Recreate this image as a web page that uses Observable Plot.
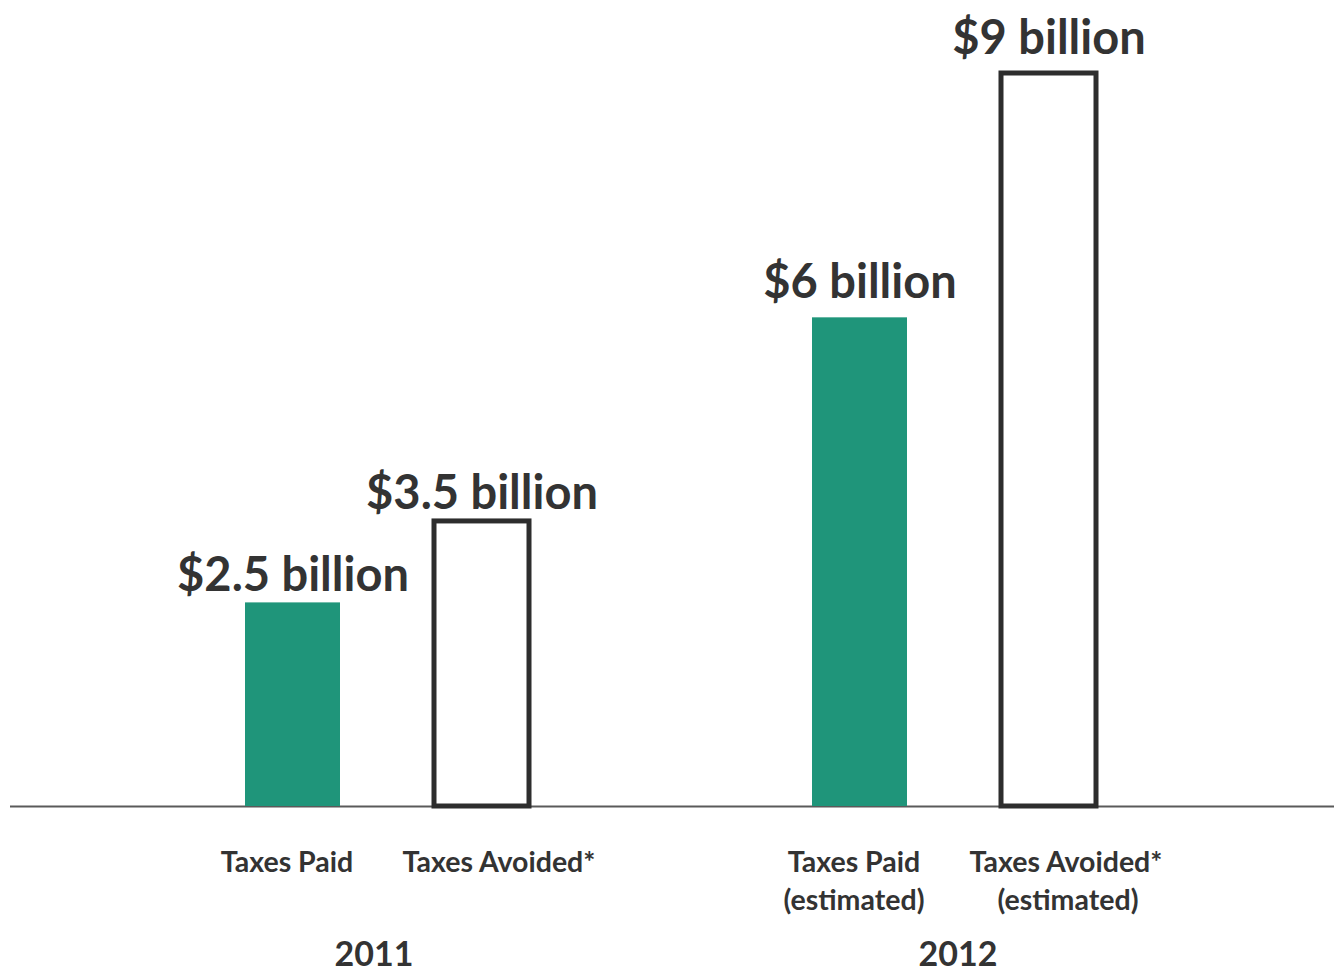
<!DOCTYPE html>
<html><head><meta charset="utf-8">
<script src="https://cdn.jsdelivr.net/npm/d3@7"></script>
<script src="https://cdn.jsdelivr.net/npm/@observablehq/plot@0.6"></script>
<style>body{margin:0;background:#fff}</style></head>
<body><div id="chart"></div>
<script>
const years = ["2011", "2012"];
const types = ["Taxes Paid", "Taxes Avoided*"];
const values2011 = [2.5, 3.5];
const values2012 = [6, 9];
const valueLabels2011 = ["$2.5 billion", "$3.5 billion"];
const valueLabels2012 = ["$6 billion", "$9 billion"];
const subLabels2011 = ["", ""];
const subLabels2012 = ["(estimated)", "(estimated)"];
const slots = ["2011|Taxes Paid", "2011|Taxes Avoided*", "gap", "2012|Taxes Paid", "2012|Taxes Avoided*"];

const vals = {"2011": values2011, "2012": values2012};
const vlabs = {"2011": valueLabels2011, "2012": valueLabels2012};
const subs = {"2011": subLabels2011, "2012": subLabels2012};
const rows = [];
for (const y of years) types.forEach((t, i) => rows.push({
  year: y, type: t, key: y + "|" + t, value: vals[y][i], label: vlabs[y][i], sub: subs[y][i]
}));
const paid = rows.filter(d => d.type === types[0]);
const avoided = rows.filter(d => d.type === types[1]);

const font = "Lato, 'Open Sans', sans-serif";
const ink = "#333333";

const chart = Plot.plot({
  width: 1334, height: 972,
  marginTop: 73, marginBottom: 166, marginLeft: 10, marginRight: 0,
  style: {fontFamily: font, background: "#fff", overflow: "visible"},
  x: {type: "band", domain: slots, range: [196.25, 1143.75], paddingInner: 0.5, paddingOuter: 0.25, axis: null},
  y: {domain: [0, 9], axis: null},
  marks: [
    Plot.ruleY([0], {stroke: "#5a5a5a", strokeWidth: 2}),
    Plot.barY(paid, {x: "key", y: "value", fill: "#1f957a"}),
    Plot.barY(avoided, {x: "key", y: "value", fill: "#fff", stroke: "#2d2d2d", strokeWidth: 5}),
    Plot.text(rows.filter(d => d.year === years[0]), {x: "key", y: "value", text: "label", lineAnchor: "bottom", dy: -12,
      fontSize: 47, fontWeight: "bold", fill: ink}),
    Plot.text(rows.filter(d => d.year === years[1]), {x: "key", y: "value", text: "label", lineAnchor: "bottom", dy: -20,
      fontSize: 47, fontWeight: "bold", fill: ink}),
    Plot.text(paid, {x: "key", y: 0, text: "type", dy: 56, dx: -6, fontSize: 28.5, fontWeight: "bold", fill: ink}),
    Plot.text(avoided, {x: "key", y: 0, text: "type", dy: 56, dx: 17, fontSize: 28.5, fontWeight: "bold", fill: ink}),
    Plot.text(paid, {x: "key", y: 0, text: "sub", dy: 94, dx: -6, fontSize: 28.5, fontWeight: "bold", fill: ink}),
    Plot.text(avoided, {x: "key", y: 0, text: "sub", dy: 94, dx: 19, fontSize: 28.5, fontWeight: "bold", fill: ink}),
    Plot.text(paid.filter(d => d.year === years[0]), {x: "key", y: 0, text: "year", dy: 149, dx: 81, fontSize: 34, fontWeight: "bold", fill: ink}),
    Plot.text(paid.filter(d => d.year === years[1]), {x: "key", y: 0, text: "year", dy: 149, dx: 98, fontSize: 34, fontWeight: "bold", fill: ink})
  ]
});
document.getElementById("chart").appendChild(chart);
</script>
</body></html>
